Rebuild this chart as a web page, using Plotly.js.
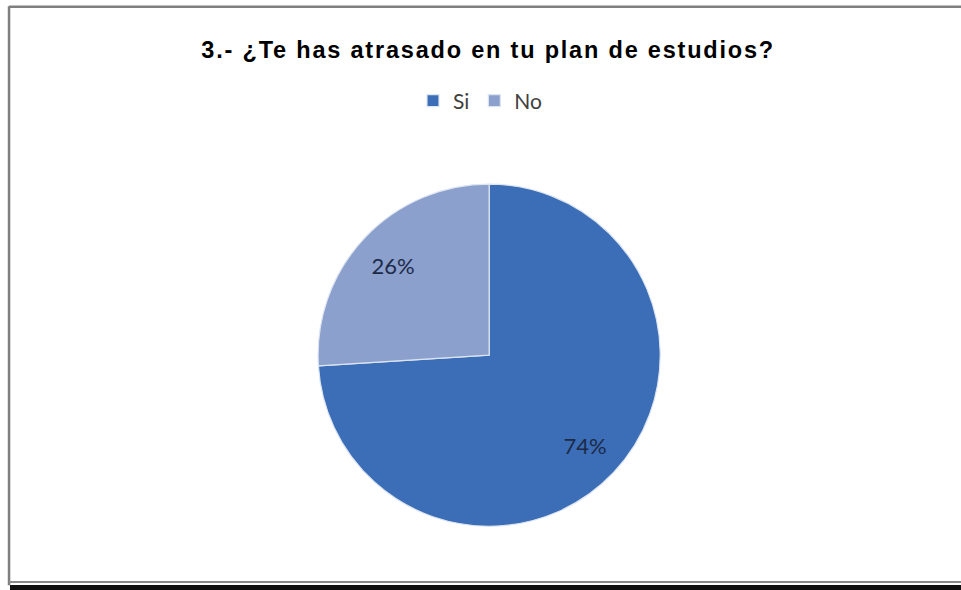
<!DOCTYPE html>
<html>
<head>
<meta charset="utf-8">
<script src="https://cdn.plot.ly/plotly-3.0.1.min.js"></script>
<style>
  html, body { margin: 0; padding: 0; background: #ffffff; }
  #chart { width: 961px; height: 590px; }
  #chart .gtitle { letter-spacing: 1.8px; }
</style>
</head>
<body>
<div id="chart"></div>
<script>
// Data
const categories = ["Si", "No"];
const values = [74, 26];
const sliceColors = ["#3b6eb6", "#8ba0cd"];
const chartTitle = "3.- ¿Te has atrasado en tu plan de estudios?";

const pieDomain = { x: [0.331, 0.687], y: [0.108, 0.688] };

// Filled pie (slices + legend)
const pieTrace = {
  type: "pie",
  labels: categories,
  values: values,
  sort: false,
  direction: "clockwise",
  rotation: 0,
  marker: { colors: sliceColors, line: { color: "#dde5f1", width: 1.2 } },
  textinfo: "none",
  hoverinfo: "label+percent",
  domain: pieDomain,
  showlegend: true
};

// Transparent ring carrying the percentage labels (pushes them outward)
const labelTrace = {
  type: "pie",
  labels: categories,
  values: values,
  sort: false,
  direction: "clockwise",
  rotation: 0,
  hole: 0.54,
  marker: { colors: ["rgba(0,0,0,0)", "rgba(0,0,0,0)"], line: { width: 0 } },
  textinfo: "percent",
  texttemplate: "%{percent:.0%}",
  textposition: "inside",
  insidetextorientation: "horizontal",
  textfont: { family: "Lato, 'Open Sans', sans-serif", size: 22, color: "#1c2a48" },
  hoverinfo: "skip",
  domain: pieDomain,
  showlegend: false
};

const layout = {
  width: 961,
  height: 590,
  margin: { l: 0, r: 0, t: 0, b: 0 },
  paper_bgcolor: "#ffffff",
  plot_bgcolor: "#ffffff",
  title: {
    text: "<b>" + chartTitle + "</b>",
    font: { family: "'Liberation Sans', Arial, sans-serif", size: 23.5, color: "#000000" },
    x: 0.508, xref: "paper", xanchor: "center",
    y: 0.915, yref: "paper", yanchor: "middle"
  },
  legend: {
    orientation: "h",
    x: 0.5, xanchor: "center",
    y: 0.829, yanchor: "middle",
    font: { family: "Lato, 'Open Sans', sans-serif", size: 21, color: "#404040" },
    itemwidth: 30,
    traceorder: "normal"
  },
  shapes: [
    { type: "line", xref: "paper", yref: "paper", x0: 0.0094, x1: 1, y0: 0.9885, y1: 0.9885,
      line: { color: "#7f7f7f", width: 2.5 } },
    { type: "line", xref: "paper", yref: "paper", x0: 0.0094, x1: 0.0094, y0: 0.008, y1: 0.9895,
      line: { color: "#7f7f7f", width: 2.5 } },
    { type: "line", xref: "paper", yref: "paper", x0: 0.0094, x1: 1, y0: 0.0135, y1: 0.0135,
      line: { color: "#8a8a8a", width: 2 } },
    { type: "rect", xref: "paper", yref: "paper", x0: 0.0104, x1: 1, y0: 0, y1: 0.0085,
      fillcolor: "#101010", line: { width: 0 } }
  ]
};

Plotly.newPlot("chart", [pieTrace, labelTrace], layout, { displayModeBar: false, staticPlot: true });
</script>
</body>
</html>
